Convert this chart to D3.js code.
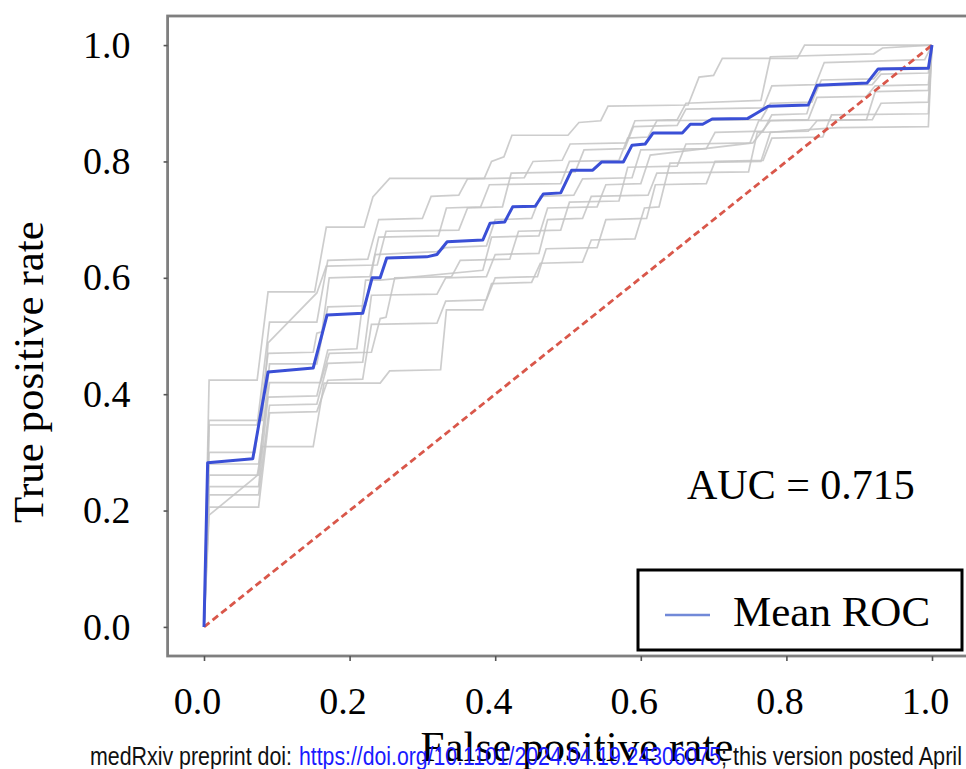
<!DOCTYPE html>
<html>
<head>
<meta charset="utf-8">
<script src="https://cdnjs.cloudflare.com/ajax/libs/d3/7.8.5/d3.min.js"></script>
<style>
body { margin: 0; background: #fff; }
</style>
</head>
<body>
<div id="chart"></div>
<script>
// mean ROC
var meanFpr = [0, 0.005, 0.067, 0.088, 0.150, 0.169, 0.218, 0.231, 0.242, 0.251, 0.306, 0.320, 0.334, 0.383, 0.393, 0.413, 0.424, 0.455, 0.466, 0.490,
               0.505, 0.534, 0.546, 0.576, 0.588, 0.606, 0.617, 0.657, 0.668, 0.685, 0.698, 0.747, 0.759, 0.775, 0.830, 0.842, 0.911, 0.926, 0.995, 1];
var meanTpr = [0, 0.282, 0.289, 0.438, 0.445, 0.536, 0.539, 0.600, 0.600, 0.634, 0.636, 0.640, 0.662, 0.665, 0.694, 0.696, 0.722, 0.723, 0.744, 0.746,
               0.785, 0.785, 0.799, 0.799, 0.828, 0.830, 0.849, 0.849, 0.864, 0.864, 0.873, 0.874, 0.883, 0.895, 0.897, 0.931, 0.935, 0.959, 0.960, 1];

// single folds [fpr, tpr]
var fold1 = [[0,0],[0.007,0.424],[0.073,0.424],[0.088,0.576],[0.152,0.576],[0.168,0.687],[0.220,0.687],[0.232,0.739],[0.255,0.771],[0.385,0.771],[0.395,0.800],[0.412,0.808],[0.423,0.845],[0.500,0.845],[0.515,0.867],[0.545,0.870],[0.555,0.895],[0.665,0.897],[0.680,0.945],[0.700,0.948],[0.712,0.977],[0.815,0.977],[0.825,1.0],[1,1]];
var fold2 = [[0,0],[0.007,0.347],[0.073,0.347],[0.090,0.524],[0.155,0.524],[0.170,0.630],[0.225,0.632],[0.240,0.700],[0.300,0.702],[0.312,0.740],[0.350,0.742],[0.362,0.770],[0.440,0.772],[0.452,0.800],[0.492,0.802],[0.503,0.830],[0.580,0.832],[0.592,0.870],[0.650,0.872],[0.662,0.900],[0.765,0.905],[0.778,0.980],[0.920,0.985],[0.932,0.995],[1,1]];
var fold3 = [[0,0],[0.007,0.300],[0.070,0.300],[0.088,0.470],[0.150,0.472],[0.155,0.505],[0.162,0.507],[0.172,0.600],[0.228,0.602],[0.240,0.670],[0.322,0.672],[0.333,0.720],[0.380,0.722],[0.392,0.760],[0.490,0.762],[0.502,0.800],[0.570,0.802],[0.582,0.840],[0.610,0.842],[0.622,0.870],[0.765,0.872],[0.778,0.900],[0.835,0.902],[0.848,0.940],[0.920,0.942],[0.932,0.960],[0.995,0.962],[1,1]];
var fold4 = [[0,0],[0.007,0.261],[0.075,0.261],[0.090,0.452],[0.155,0.452],[0.170,0.550],[0.222,0.552],[0.235,0.640],[0.320,0.645],[0.332,0.652],[0.388,0.655],[0.400,0.700],[0.450,0.702],[0.462,0.740],[0.508,0.742],[0.520,0.770],[0.588,0.772],[0.600,0.820],[0.690,0.822],[0.702,0.850],[0.768,0.852],[0.780,0.880],[0.828,0.882],[0.840,0.930],[0.918,0.932],[0.930,0.950],[0.995,0.952],[1,1]];
var fold5 = [[0,0],[0.007,0.241],[0.075,0.241],[0.088,0.395],[0.155,0.397],[0.170,0.476],[0.210,0.478],[0.222,0.596],[0.242,0.596],[0.383,0.613],[0.395,0.670],[0.460,0.672],[0.472,0.720],[0.540,0.722],[0.552,0.760],[0.600,0.762],[0.613,0.811],[0.754,0.832],[0.778,0.870],[0.910,0.872],[0.922,0.920],[0.995,0.922],[1,1]];
var fold6 = [[0,0],[0.007,0.227],[0.075,0.227],[0.090,0.381],[0.155,0.383],[0.170,0.453],[0.218,0.455],[0.230,0.570],[0.320,0.572],[0.332,0.600],[0.388,0.602],[0.400,0.640],[0.460,0.642],[0.472,0.700],[0.520,0.702],[0.532,0.740],[0.610,0.742],[0.622,0.780],[0.748,0.782],[0.760,0.850],[0.830,0.852],[0.842,0.870],[0.918,0.872],[0.930,0.900],[0.995,0.902],[1,1]];
var fold7 = [[0,0],[0.007,0.206],[0.075,0.206],[0.090,0.368],[0.155,0.370],[0.170,0.424],[0.218,0.426],[0.230,0.520],[0.320,0.522],[0.332,0.560],[0.388,0.562],[0.400,0.600],[0.458,0.602],[0.470,0.650],[0.540,0.652],[0.552,0.700],[0.608,0.702],[0.620,0.760],[0.690,0.762],[0.702,0.800],[0.768,0.802],[0.780,0.840],[0.850,0.842],[0.862,0.880],[0.995,0.882],[1,1]];
var fold8 = [[0,0],[0.007,0.192],[0.073,0.260],[0.080,0.310],[0.150,0.310],[0.165,0.419],[0.242,0.419],[0.255,0.440],[0.325,0.442],[0.333,0.545],[0.383,0.545],[0.395,0.590],[0.450,0.592],[0.462,0.625],[0.520,0.627],[0.532,0.665],[0.592,0.667],[0.605,0.720],[0.625,0.722],[0.640,0.797],[0.765,0.800],[0.778,0.850],[0.870,0.858],[0.995,0.860],[1,1]];
var fold9 = [[0,0],[0.007,0.355],[0.080,0.355],[0.088,0.488],[0.155,0.574],[0.168,0.620],[0.238,0.622],[0.250,0.680],[0.350,0.682],[0.362,0.720],[0.410,0.722],[0.422,0.780],[0.510,0.782],[0.522,0.820],[0.578,0.822],[0.590,0.860],[0.650,0.862],[0.662,0.890],[0.768,0.892],[0.780,0.930],[0.840,0.932],[0.852,0.970],[0.990,0.975],[1,1]];
var fold10 = [[0,0],[0.007,0.280],[0.075,0.280],[0.090,0.420],[0.160,0.420],[0.172,0.470],[0.230,0.472],[0.242,0.530],[0.250,0.532],[0.262,0.600],[0.340,0.602],[0.352,0.630],[0.420,0.632],[0.432,0.680],[0.490,0.682],[0.502,0.730],[0.570,0.732],[0.582,0.790],[0.650,0.792],[0.662,0.830],[0.750,0.832],[0.762,0.870],[0.830,0.872],[0.842,0.910],[0.910,0.912],[0.922,0.930],[0.995,0.932],[1,1]];
var folds = [fold1, fold2, fold3, fold4, fold5, fold6, fold7, fold8, fold9, fold10];

// chance line
var chance = [[0, 0], [1, 1]];

var tickValues = [0, 0.2, 0.4, 0.6, 0.8, 1.0];
var aucLabel = "AUC = 0.715";
var legendLabel = "Mean ROC";
var xLabel = "False positive rate";
var yLabel = "True positive rate";
var footerParts = ["medRxiv preprint doi:", "https://doi.org/10.1101/2024.04.19.24306075", "; this version posted April"];

var W = 966, H = 769;
var serif = "'Liberation Serif', 'Times New Roman', serif";

var svg = d3.select("#chart").append("svg")
    .attr("width", W)
    .attr("height", H);

//scales: matplotlib style with 5% margins
var x = d3.scaleLinear().domain([-0.05, 1.05]).range([167.6, 968.4]);
var y = d3.scaleLinear().domain([-0.05, 1.05]).range([656, 16]);

var line = d3.line()
    .x(function(d) { return x(d[0]); })
    .y(function(d) { return y(d[1]); });

//folds
svg.append("g")
    .selectAll("path")
    .data(folds)
    .enter().append("path")
    .attr("d", line)
    .attr("fill", "none")
    .attr("stroke", "#c4c4c4")
    .attr("stroke-opacity", 0.85)
    .attr("stroke-width", 1.7);

//chance diagonal
svg.append("path")
    .datum(chance)
    .attr("d", line)
    .attr("fill", "none")
    .attr("stroke", "#d9574a")
    .attr("stroke-width", 2.8)
    .attr("stroke-dasharray", "7,4");

//mean curve
var meanData = meanFpr.map(function(f, i) { return [f, meanTpr[i]]; });
svg.append("path")
    .datum(meanData)
    .attr("d", line)
    .attr("fill", "none")
    .attr("stroke", "#3a4fd6")
    .attr("stroke-width", 3)
    .attr("stroke-linejoin", "round");

//frame
svg.append("rect")
    .attr("x", x(-0.05))
    .attr("y", y(1.05))
    .attr("width", x(1.05) - x(-0.05))
    .attr("height", y(-0.05) - y(1.05))
    .attr("fill", "none")
    .attr("stroke", "#7f7f7f")
    .attr("stroke-width", 2.8);

//x axis
var xAxis = svg.append("g")
    .attr("transform", "translate(0," + y(-0.05) + ")")
    .call(d3.axisBottom(x).tickValues(tickValues).tickFormat(d3.format(".1f")).tickSize(5).tickPadding(26));
xAxis.select(".domain").remove();
xAxis.selectAll("line").attr("stroke", "#555").attr("stroke-width", 1.6);
xAxis.selectAll("text")
    .attr("dx", -7)
    .attr("fill", "#000")
    .style("font-family", serif)
    .style("font-size", "38px");

//y axis
var yAxis = svg.append("g")
    .attr("transform", "translate(" + x(-0.05) + ",0)")
    .call(d3.axisLeft(y).tickValues(tickValues).tickFormat(d3.format(".1f")).tickSize(4).tickPadding(33));
yAxis.select(".domain").remove();
yAxis.selectAll("line").attr("stroke", "#555").attr("stroke-width", 1.6);
yAxis.selectAll("text")
    .attr("fill", "#000")
    .style("font-family", serif)
    .style("font-size", "38px");

//axis titles
svg.append("text")
    .attr("transform", "translate(43,372) rotate(-90)")
    .attr("text-anchor", "middle")
    .attr("fill", "#000")
    .style("font-family", serif)
    .style("font-size", "43px")
    .text(yLabel);

svg.append("text")
    .attr("x", 577)
    .attr("y", 761)
    .attr("text-anchor", "middle")
    .attr("fill", "#000")
    .style("font-family", serif)
    .style("font-size", "43px")
    .text(xLabel);

//AUC annotation
svg.append("text")
    .attr("x", 687)
    .attr("y", 499)
    .attr("fill", "#000")
    .style("font-family", serif)
    .style("font-size", "42px")
    .text(aucLabel);

//legend
var legend = svg.append("g");
legend.append("rect")
    .attr("x", 638)
    .attr("y", 570)
    .attr("width", 324)
    .attr("height", 80)
    .attr("fill", "#fff")
    .attr("stroke", "#000")
    .attr("stroke-width", 3);
legend.append("line")
    .attr("x1", 665)
    .attr("x2", 710)
    .attr("y1", 615)
    .attr("y2", 615)
    .attr("stroke", "#7189d8")
    .attr("stroke-width", 2.5);
legend.append("text")
    .attr("x", 733)
    .attr("y", 626)
    .attr("fill", "#000")
    .style("font-family", serif)
    .style("font-size", "43px")
    .text(legendLabel);

//preprint footer overlay
var footerX = [90, 299, 721];
var footerW = [202, 422, 241];
var footerColor = ["#111", "#1a1aff", "#111"];
svg.append("g")
    .selectAll("text")
    .data(footerParts)
    .enter().append("text")
    .attr("x", function(d, i) { return footerX[i]; })
    .attr("y", 765)
    .attr("textLength", function(d, i) { return footerW[i]; })
    .attr("lengthAdjust", "spacingAndGlyphs")
    .attr("fill", function(d, i) { return footerColor[i]; })
    .style("font-family", "'Liberation Sans Narrow', 'Liberation Sans', Arial, sans-serif")
    .style("font-size", "25px")
    .text(function(d) { return d; });
</script>
</body>
</html>
